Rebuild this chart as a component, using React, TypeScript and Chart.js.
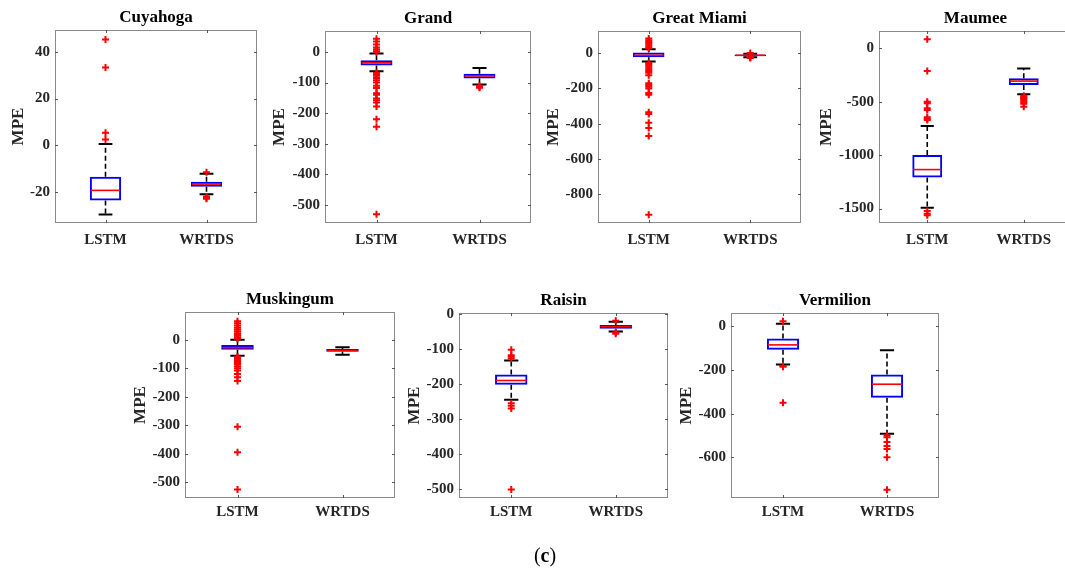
import React, { useEffect, useRef } from 'react';
import { Chart, registerables } from 'chart.js';

Chart.register(...registerables);

const categories = ['LSTM', 'WRTDS'];

// Box statistics: [lower whisker, Q1, median, Q3, upper whisker]
const cuyahogaLSTM = [-29.7, -23.7, -19.4, -13.6, 0.5];
const cuyahogaWRTDS = [-21.1, -17.8, -16.7, -15.7, -12.3];
const cuyahogaLSTMOut = [45.3, 33.3, 5.3, 2.4];
const cuyahogaWRTDSOut = [-11.6, -22.0, -22.6, -23.0];
const cuyahogaTicks = [-20, 0, 20, 40];

const grandLSTM = [-63, -44, -35, -27, -5];
const grandWRTDS = [-106, -87, -78, -71, -52];
const grandLSTMOut = [44, 35, 25, 15, 8, 3, 0, -68, -72, -78, -85, -92, -100, -110, -118, -135, -140, -152, -158, -165, -178, -220, -245, -531];
const grandWRTDSOut = [-110, -114, -117];
const grandTicks = [-500, -400, -300, -200, -100, 0];

const greatMiamiLSTM = [-46, -23, -11, 5, 23];
const greatMiamiWRTDS = [-22, -16, -11, -7, -2];
const greatMiamiLSTMOut = [85, 75, 65, 55, 45, 35, 28, -55, -62, -70, -80, -90, -100, -110, -125, -170, -180, -190, -200, -225, -235, -335, -345, -395, -425, -470, -918];
const greatMiamiWRTDSOut = [2, -19, -24, -26];
const greatMiamiTicks = [-800, -600, -400, -200, 0];

const maumeeLSTM = [-1492, -1210, -1135, -998, -726];
const maumeeWRTDS = [-430, -344, -307, -281, -188];
const maumeeLSTMOut = [84, -213, -500, -515, -560, -578, -645, -660, -672, -1523, -1548, -1563];
const maumeeWRTDSOut = [-445, -455, -465, -475, -490, -505, -520, -548];
const maumeeTicks = [-1500, -1000, -500, 0];

const muskingumLSTM = [-56, -35, -28, -19, 0];
const muskingumWRTDS = [-53, -42, -38, -33, -27];
const muskingumLSTMOut = [65, 58, 50, 42, 35, 28, 20, 14, 8, 3, -60, -63, -67, -72, -78, -85, -93, -100, -108, -120, -132, -145, -305, -395, -525];
const muskingumWRTDSOut: number[] = [];
const muskingumTicks = [-500, -400, -300, -200, -100, 0];

const raisinLSTM = [-245, -202, -190, -173, -133];
const raisinWRTDS = [-50, -42, -36, -31, -22];
const raisinLSTMOut = [-102, -118, -122, -127, -255, -262, -270, -502];
const raisinWRTDSOut = [-19, -53, -56];
const raisinTicks = [-500, -400, -300, -200, -100, 0];

const vermilionLSTM = [-175, -107, -85, -56, 12];
const vermilionWRTDS = [-492, -327, -265, -221, -110];
const vermilionLSTMOut = [23, -182, -185, -350];
const vermilionWRTDSOut = [-500, -508, -530, -548, -562, -600, -748];
const vermilionTicks = [-600, -400, -200, 0];

const FONT = "'Liberation Serif', 'Times New Roman', serif";
const Y_W = 70;
const TITLE_H = 30;
const X_H = 35;
const PAD_R = 8;

type PanelDef = {
  title: string;
  lstm: number[];
  wrtds: number[];
  lstmOut: number[];
  wrtdsOut: number[];
  ticks: number[];
  min: number;
  max: number;
  l: number; t: number; r: number; b: number;
  yOff: number;
  xPad: number;
};

const panels: PanelDef[] = [
  { title: 'Cuyahoga', lstm: cuyahogaLSTM, wrtds: cuyahogaWRTDS, lstmOut: cuyahogaLSTMOut, wrtdsOut: cuyahogaWRTDSOut, ticks: cuyahogaTicks, min: -33.4, max: 49.4, l: 55, t: 30, r: 257, b: 223, yOff: 36, xPad: 8 },
  { title: 'Grand', lstm: grandLSTM, wrtds: grandWRTDS, lstmOut: grandLSTMOut, wrtdsOut: grandWRTDSOut, ticks: grandTicks, min: -560, max: 69, l: 325, t: 31, r: 531, b: 223, yOff: 45, xPad: 8 },
  { title: 'Great Miami', lstm: greatMiamiLSTM, wrtds: greatMiamiWRTDS, lstmOut: greatMiamiLSTMOut, wrtdsOut: greatMiamiWRTDSOut, ticks: greatMiamiTicks, min: -965, max: 127, l: 598, t: 31, r: 801, b: 223, yOff: 44.5, xPad: 8 },
  { title: 'Maumee', lstm: maumeeLSTM, wrtds: maumeeWRTDS, lstmOut: maumeeLSTMOut, wrtdsOut: maumeeWRTDSOut, ticks: maumeeTicks, min: -1635, max: 162, l: 879, t: 31, r: 1072, b: 223, yOff: 52.5, xPad: 8 },
  { title: 'Muskingum', lstm: muskingumLSTM, wrtds: muskingumWRTDS, lstmOut: muskingumLSTMOut, wrtdsOut: muskingumWRTDSOut, ticks: muskingumTicks, min: -555, max: 97, l: 185, t: 312, r: 395, b: 498, yOff: 44.5, xPad: 5 },
  { title: 'Raisin', lstm: raisinLSTM, wrtds: raisinWRTDS, lstmOut: raisinLSTMOut, wrtdsOut: raisinWRTDSOut, ticks: raisinTicks, min: -526, max: 3, l: 459, t: 313, r: 668, b: 498, yOff: 44, xPad: 5 },
  { title: 'Vermilion', lstm: vermilionLSTM, wrtds: vermilionWRTDS, lstmOut: vermilionLSTMOut, wrtdsOut: vermilionWRTDSOut, ticks: vermilionTicks, min: -786, max: 61, l: 731, t: 313, r: 939, b: 498, yOff: 44, xPad: 5 },
];

function makeBoxPlugin(stats: number[][]) {
  return {
    id: 'boxWhiskers',
    beforeDatasetsDraw(chart: any) {
      const meta = chart.getDatasetMeta(1);
      const y = chart.scales.y;
      const ctx = chart.ctx;
      ctx.save();
      stats.forEach((s, i) => {
        const el = meta.data[i];
        if (!el) return;
        const x = el.x;
        const cap = el.width * 0.22;
        const [lo, q1, , q3, hi] = s;
        ctx.strokeStyle = '#000000';
        ctx.lineWidth = 1.6;
        ctx.setLineDash([5, 3]);
        ctx.beginPath();
        ctx.moveTo(x, y.getPixelForValue(q3));
        ctx.lineTo(x, y.getPixelForValue(hi));
        ctx.moveTo(x, y.getPixelForValue(q1));
        ctx.lineTo(x, y.getPixelForValue(lo));
        ctx.stroke();
        ctx.setLineDash([]);
        ctx.lineWidth = 2;
        ctx.beginPath();
        ctx.moveTo(x - cap, y.getPixelForValue(hi));
        ctx.lineTo(x + cap, y.getPixelForValue(hi));
        ctx.moveTo(x - cap, y.getPixelForValue(lo));
        ctx.lineTo(x + cap, y.getPixelForValue(lo));
        ctx.stroke();
      });
      ctx.restore();
    },
    afterDatasetDraw(chart: any, args: any) {
      if (args.index !== 1) return;
      const meta = chart.getDatasetMeta(1);
      const y = chart.scales.y;
      const ctx = chart.ctx;
      ctx.save();
      ctx.strokeStyle = '#ff0000';
      ctx.lineWidth = 1.6;
      stats.forEach((s, i) => {
        const el = meta.data[i];
        if (!el) return;
        const py = y.getPixelForValue(s[2]);
        ctx.beginPath();
        ctx.moveTo(el.x - el.width / 2 + 1, py);
        ctx.lineTo(el.x + el.width / 2 - 1, py);
        ctx.stroke();
      });
      ctx.restore();
    },
    afterDraw(chart: any) {
      const { ctx, chartArea } = chart;
      const { left, top, right, bottom } = chartArea;
      ctx.save();
      ctx.strokeStyle = '#8a8a8a';
      ctx.lineWidth = 1;
      ctx.strokeRect(left + 0.5, top + 0.5, right - left - 1, bottom - top - 1);
      ctx.strokeStyle = '#555555';
      ctx.beginPath();
      chart.scales.y.ticks.forEach((t: any) => {
        const py = Math.round(chart.scales.y.getPixelForValue(t.value)) + 0.5;
        ctx.moveTo(left, py); ctx.lineTo(left + 3, py);
        ctx.moveTo(right, py); ctx.lineTo(right - 3, py);
      });
      categories.forEach((_, i) => {
        const px = Math.round(chart.scales.x.getPixelForValue(i)) + 0.5;
        ctx.moveTo(px, top); ctx.lineTo(px, top + 3);
        ctx.moveTo(px, bottom); ctx.lineTo(px, bottom - 3);
      });
      ctx.stroke();
      ctx.restore();
    },
  };
}

function Panel({ p }: { p: PanelDef }) {
  const ref = useRef<HTMLCanvasElement | null>(null);
  const W = p.r - p.l + Y_W + PAD_R;
  const H = p.b - p.t + TITLE_H + X_H;
  useEffect(() => {
    if (!ref.current) return;
    const stats = [p.lstm, p.wrtds];
    const outPts = [
      ...p.lstmOut.map((v) => ({ x: categories[0], y: v })),
      ...p.wrtdsOut.map((v) => ({ x: categories[1], y: v })),
    ];
    const chart = new Chart(ref.current, {
      type: 'bar',
      data: {
        labels: categories,
        datasets: [
          {
            type: 'scatter',
            data: outPts,
            pointStyle: 'cross',
            pointRadius: 3.5,
            pointBorderWidth: 2,
            borderColor: '#ff0000',
            backgroundColor: '#ff0000',
            order: 1,
          } as any,
          {
            type: 'bar',
            data: stats.map((s) => [s[1], s[3]]),
            backgroundColor: 'rgba(0,0,0,0)',
            borderColor: '#0000ff',
            borderWidth: 2,
            borderSkipped: false,
            barPercentage: 0.31,
            categoryPercentage: 1,
            order: 2,
          } as any,
        ],
      },
      options: {
        animation: false,
        responsive: false,
        devicePixelRatio: 1,
        layout: { padding: { left: 0, right: PAD_R, top: 0, bottom: 0 } },
        events: [],
        plugins: {
          legend: { display: false },
          tooltip: { enabled: false },
          title: {
            display: true,
            text: p.title,
            fullSize: false,
            color: '#000000',
            font: { family: FONT, size: 17, weight: 'bold' },
            padding: { top: 7.3, bottom: 2.3 },
          },
        },
        scales: {
          x: {
            type: 'category',
            offset: true,
            grid: { display: false, drawTicks: false },
            border: { display: false },
            ticks: {
              color: '#262626',
              font: { family: FONT, size: 15, weight: 'bold' },
              padding: p.xPad,
              maxRotation: 0,
            },
            afterFit: (s: any) => { s.height = X_H; },
          },
          y: {
            type: 'linear',
            min: p.min,
            max: p.max,
            grid: { display: false, drawTicks: false },
            border: { display: false },
            afterBuildTicks: (s: any) => { s.ticks = p.ticks.map((v) => ({ value: v })); },
            ticks: {
              color: '#262626',
              font: { family: FONT, size: 15, weight: 'bold' },
              padding: 5,
              callback: (v: any) => String(v),
            },
            title: {
              display: true,
              text: 'MPE',
              color: '#262626',
              font: { family: FONT, size: 17, weight: 'bold' },
              padding: { top: Y_W - p.yOff - 10.2, bottom: 0 },
            },
            afterFit: (s: any) => { s.width = Y_W; },
          },
        },
      } as any,
      plugins: [makeBoxPlugin(stats) as any],
    });
    return () => chart.destroy();
  }, []);
  return (
    <canvas
      ref={ref}
      width={W}
      height={H}
      style={{ position: 'absolute', left: p.l - Y_W, top: p.t - TITLE_H, width: W, height: H, display: 'block' }}
    />
  );
}

export default function App() {
  return (
    <div style={{ position: 'absolute', left: 0, top: 0, width: 1065, height: 572, overflow: 'hidden', background: '#ffffff' }}>
      {panels.map((p) => (
        <Panel key={p.title} p={p} />
      ))}
      <div
        style={{
          position: 'absolute',
          left: 545,
          top: 543,
          transform: 'translateX(-50%)',
          fontFamily: FONT,
          fontSize: 20,
          color: '#000000',
          lineHeight: '24px',
        }}
      >
        (<b>c</b>)
      </div>
    </div>
  );
}
